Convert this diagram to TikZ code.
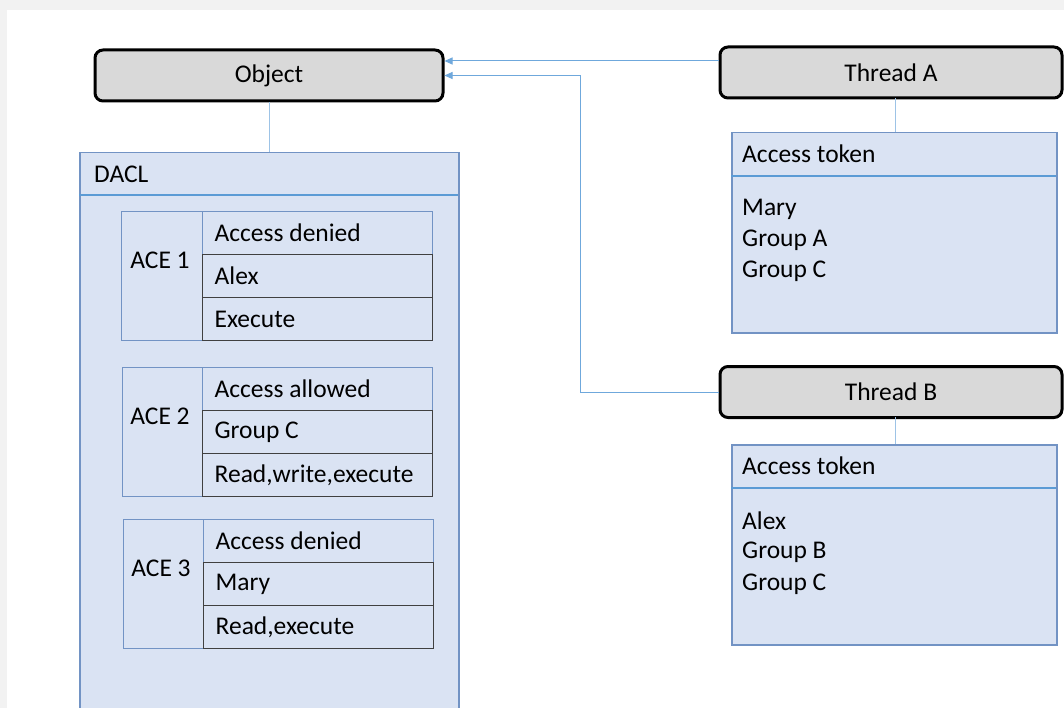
\documentclass[tikz,border=0pt]{standalone}
\usepackage{fontspec}
\setmainfont{Carlito}
\usetikzlibrary{arrows.meta,positioning}
\definecolor{bgout}{HTML}{F2F2F2}
\definecolor{boxfill}{HTML}{DAE3F3}
\definecolor{boxline}{HTML}{7293C4}
\definecolor{headline}{HTML}{5B9BD5}
\definecolor{conn}{HTML}{9DC3E6}
\definecolor{arrcol}{HTML}{6FA8DC}
\definecolor{threadfill}{HTML}{D9D9D9}
\definecolor{darkline}{HTML}{404040}
\tikzset{
  txt/.style={font=\fontsize{25.5}{30}\selectfont, text=black},
  thread/.style={txt, draw=black, line width=3pt, rounded corners=8pt, fill=threadfill,
     minimum height=51pt, inner sep=0pt},
  bluebox/.style={draw=boxline, line width=1.5pt, fill=boxfill, anchor=north west, inner sep=0pt},
  cellblue/.style={txt, draw=boxline, line width=1.3pt, fill=boxfill, anchor=north west,
     minimum width=230pt, minimum height=43pt, inner sep=0pt, text width=206pt, align=flush left},
  celldark/.style={txt, draw=darkline, line width=1.3pt, fill=boxfill, anchor=north west,
     minimum width=230pt, minimum height=43pt, inner sep=0pt, text width=206pt, align=flush left},
  acecol/.style={txt, draw=boxline, line width=1.3pt, fill=boxfill, anchor=north west,
     minimum width=81pt, minimum height=129pt, inner sep=0pt},
  lbl/.style={txt, anchor=west, inner sep=0pt},
  plain/.style={draw=conn, line width=1pt},
  arr/.style={draw=arrcol, line width=1pt, -{Triangle[length=8pt,width=7pt]}},
  hline/.style={draw=headline, line width=2pt}
}
\begin{document}
\begin{tikzpicture}[x=1pt,y=-1pt]
\useasboundingbox (0,0) rectangle (1064,708);
\clip (0,0) rectangle (1064,708);
\fill[bgout] (0,0) rectangle (1064,708);
\fill[white] (7,10) rectangle (1070,715);

% Object
\node[thread, minimum width=348pt] (obj) at (269,75.5) {Object};
% DACL
\node[bluebox, minimum width=379pt, minimum height=570pt] (dacl) at (79,152) {};
\draw[hline] (79,195) coordinate (dl) -- (458,195) coordinate (dr);
\node[lbl] (dacllbl) at (94,174) {DACL};
\draw[plain] (obj.south) -- (obj.south |- dacl.north);

% ACE 1
\node[acecol] (a1) at (121,211) {};
\node[txt, inner sep=0pt] (a1l) at (160,260) {ACE 1};
\node[cellblue] (a1c1) at (202,211) {Access denied};
\node[celldark] (a1c2) at (202,254) {Alex};
\node[celldark] (a1c3) at (202,297) {Execute};

% ACE 2
\node[acecol] (a2) at (122,367) {};
\node[txt, inner sep=0pt] (a2l) at (160,416) {ACE 2};
\node[cellblue] (a2c1) at (202,367) {Access allowed};
\node[celldark] (a2c2) at (202,410) {Group C};
\node[celldark] (a2c3) at (202,453) {Read,write,execute};

% ACE 3
\node[acecol] (a3) at (123,519) {};
\node[txt, inner sep=0pt] (a3l) at (161,568) {ACE 3};
\node[cellblue] (a3c1) at (203,519) {Access denied};
\node[celldark] (a3c2) at (203,562) {Mary};
\node[celldark] (a3c3) at (203,605) {Read,execute};

% Thread A
\node[thread, minimum width=342pt] (ta) at (891,72.5) {Thread A};
\node[bluebox, minimum width=325pt, minimum height=200pt] (toka) at (731,132) {};
\draw[hline] (731,176) coordinate (tal) -- (1056,176) coordinate (tar);
\node[lbl] (tokahd) at (742,154) {Access token};
\node[lbl] (ta1) at (742,209) {Mary};
\node[lbl] (ta2) at (742,240) {Group A};
\node[lbl] (ta3) at (742,271) {Group C};
\draw[plain] (toka.north -| 895,0) -- (895,98);

% Thread B
\node[thread, minimum width=342pt] (tb) at (891,392) {Thread B};
\node[bluebox, minimum width=325pt, minimum height=200pt] (tokb) at (731,444) {};
\draw[hline] (731,488) coordinate (tbl) -- (1056,488) coordinate (tbr);
\node[lbl] (tokbhd) at (742,466) {Access token};
\node[lbl] (tb1) at (742,521) {Alex};
\node[lbl] (tb2) at (742,552) {Group B};
\node[lbl] (tb3) at (742,584) {Group C};
\draw[plain] (tokb.north -| 895,0) -- (895,417);

% Arrows
\draw[arr] ([yshift=11.5pt]ta.west) -- ([yshift=11.5pt]ta.west -| obj.east);
\draw[arr] (tb.west) -- ++(-138,0) |- (obj.east);
\end{tikzpicture}
\end{document}
